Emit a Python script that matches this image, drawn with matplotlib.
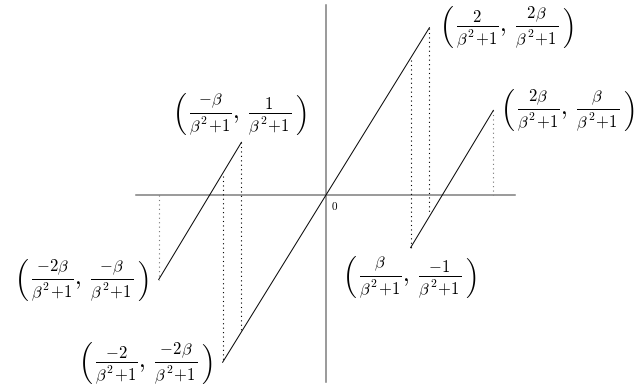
import numpy as np
import matplotlib.pyplot as plt

plt.rcParams['mathtext.fontset'] = 'cm'
plt.rcParams['font.family'] = 'serif'
plt.rcParams['font.serif'] = ['DejaVu Serif']

# segments of the piecewise map
mid_x = [-0.55, 0.55]
mid_y = [-0.89, 0.89]
left_x = [-0.89, -0.45]
left_y = [-0.45, 0.28]
right_x = [0.45, 0.89]
right_y = [-0.28, 0.45]

# dotted drop lines: (x, y_from, y_to, colour)
drops_x = [-0.89, -0.55, -0.45, 0.45, 0.55, 0.89]
drops_top = [0.0, 0.10, 0.28, 0.72, 0.89, 0.45]
drops_bottom = [-0.45, -0.89, -0.72, -0.28, -0.10, 0.0]
drops_col = ["#777777", "black", "black", "black", "black", "#777777"]

frac = r"\frac{%s}{\beta^2\!+\!1}"
labels = [
    (mid_x[1], mid_y[1], frac % "2", frac % r"2\beta", (10, 0), "left", "center"),
    (right_x[1], right_y[1], frac % r"2\beta", frac % r"\beta", (7, 0), "left", "center"),
    (left_x[1], left_y[1], frac % r"-\beta", frac % "1", (-2, 4), "center", "bottom"),
    (left_x[0], left_y[0], frac % r"-2\beta", frac % r"-\beta", (-10, -1), "right", "center"),
    (right_x[0], right_y[0], frac % r"\beta", frac % "-1", (-1, -7), "center", "top"),
    (mid_x[0], mid_y[0], frac % "-2", frac % r"-2\beta", (-10, -1), "right", "center"),
]

fig = plt.figure(figsize=(6.37, 3.89), dpi=100)
ax = fig.add_axes([0, 0, 1, 1])
ax.set_xlim(-1.734, 1.654)
ax.set_ylim(-1.032, 1.037)
ax.axis("off")

# coordinate axes
ax.plot([-1.01, 1.005], [0, 0], color="#7f7f7f", lw=1.1, zorder=1)
ax.plot([0, 0], [-0.995, 1.01], color="#7f7f7f", lw=1.1, zorder=1)

for xs, ys in [(mid_x, mid_y), (left_x, left_y), (right_x, right_y)]:
    ax.plot(xs, ys, color="black", lw=0.7, zorder=3)

for x, y0, y1, c in zip(drops_x, drops_top, drops_bottom, drops_col):
    ax.plot([x, x], [y0, y1], color=c, lw=0.8, ls=(0, (1, 3)), zorder=2)

for x, y, a, b, off, ha, va in labels:
    ax.annotate(r"$\left(\,%s,\; %s\,\right)$" % (a, b), xy=(x, y), xytext=off,
                textcoords="offset pixels", ha=ha, va=va, fontsize=17)

ax.annotate("$0$", xy=(0, 0), xytext=(5, -5), textcoords="offset pixels",
            ha="left", va="top", fontsize=8)

fig.savefig("out.png", dpi=100)
